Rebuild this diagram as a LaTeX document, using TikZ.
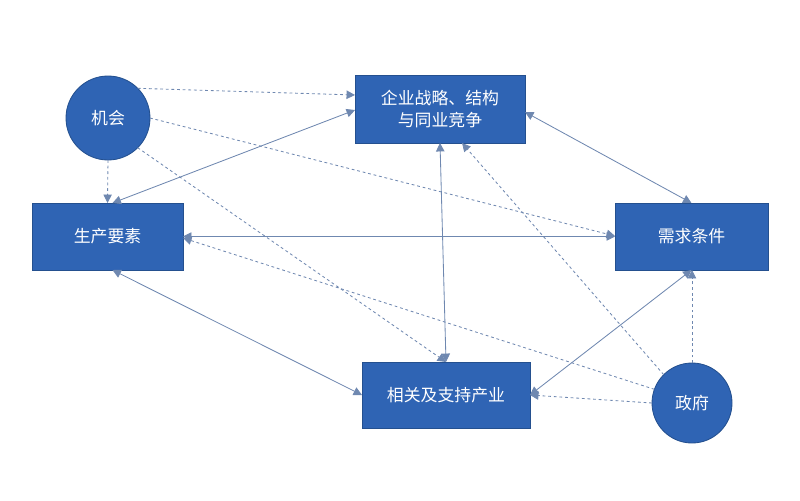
\documentclass[tikz,border=0pt]{standalone}
\usepackage{fontspec}
\newfontfamily\cjk{Noto Sans CJK SC}
\usetikzlibrary{arrows.meta}
\begin{document}
\begin{tikzpicture}[
  x=0.025cm, y=-0.025cm,
  font=\cjk\fontsize{12}{16}\selectfont,
  every node/.style={inner sep=0pt, outer sep=0pt},
]

% ── colors ──
\definecolor{BoxFill}{HTML}{2F64B4}
\definecolor{BoxEdge}{HTML}{24508F}
\definecolor{LinkCol}{HTML}{6F88B0}

\tikzset{
  factorbox/.style={fill=BoxFill, draw=BoxEdge, line width=0.6pt, text=white, align=center},
  chancecirc/.style={circle, fill=BoxFill, draw=BoxEdge, line width=0.6pt, text=white, minimum size=84*0.025cm},
  mutual/.style={LinkCol, line width=0.6pt, {Triangle[length=6pt,width=6pt]}-{Triangle[length=6pt,width=6pt]}},
  influence/.style={LinkCol, line width=0.6pt, dashed, dash pattern=on 2pt off 2pt, -{Triangle[length=6pt,width=6pt]}},
}

\useasboundingbox (0,0) rectangle (800,500);

% ── nodes ──
\node[factorbox, minimum width=170*0.025cm, minimum height=68*0.025cm] (strategy) at (440,109) {企业战略、结构\\与同业竞争};
\node[factorbox, minimum width=151*0.025cm, minimum height=67*0.025cm] (factor) at (107.5,236.5) {生产要素};
\node[factorbox, minimum width=153*0.025cm, minimum height=67*0.025cm] (demand) at (691.5,236.5) {需求条件};
\node[factorbox, minimum width=168*0.025cm, minimum height=66*0.025cm] (related) at (446,395) {相关及支持产业};
\node[chancecirc] (chance) at (108,118) {机会};
\node[chancecirc, minimum size=80*0.025cm] (govt) at (692,403) {政府};

% ── mutual links ──
\draw[mutual] (factor.north) ++(5,0) coordinate (fn) (fn) -- (strategy.west |- 0,110);
\draw[mutual] (factor.east) -- (demand.west);
\draw[mutual] (strategy.south) -- (related.north);
\draw[mutual] (strategy.east |- 0,112) -- (demand.north);
\draw[mutual] (factor.south) ++(5,0) coordinate (fs) (fs) -- (related.west);
\draw[mutual] (demand.south) -- (related.east);

% ── chance ──
\draw[influence] (chance.north east) -- (strategy.west |- 0,95);
\draw[influence] (chance.east) -- (demand.west |- 0,236);
\draw[influence] (chance.south) -- (factor.north);
\draw[influence] (chance.south east) -- (related.north);

% ── government ──
\draw[influence] (govt.west) -- (related.east);
\draw[influence] (govt.north) -- (demand.south -| govt.north);
\draw[influence] (govt.north west) -- (strategy.south -| 462,0);
\draw[influence] (govt.160) -- (factor.east |- 0,238);

\end{tikzpicture}
\end{document}
